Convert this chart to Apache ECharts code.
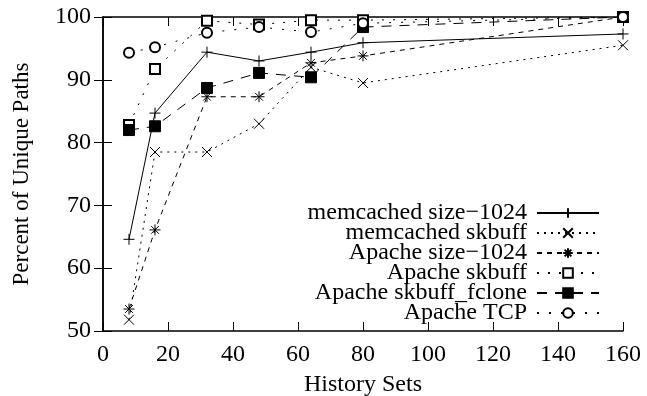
<!DOCTYPE html>
<html>
<head>
<meta charset="utf-8">
<script src="https://cdn.jsdelivr.net/npm/echarts@6/dist/echarts.min.js"></script>
<style>
  html, body { margin: 0; padding: 0; background: #fff; }
  #chart { width: 647px; height: 396px; }
</style>
</head>
<body>
<div id="chart"></div>
<script>
// history set sizes (x axis)
const historySets = [8, 16, 32, 48, 64, 80, 160]

// percent of unique paths per series
const memcachedSize1024 = [64.6, 84.7, 94.4, 93.0, 94.4, 95.9, 97.3]
const memcachedSkbuff = [51.8, 78.5, 78.5, 83.0, 92.0, 89.5, 95.5]
const apacheSize1024 = [53.5, 66.1, 87.3, 87.3, 92.7, 93.8, 100]
const apacheSkbuff = [82.8, 91.7, 99.4, 98.8, 99.5, 99.5, 100]
const apacheSkbuffFclone = [82.0, 82.6, 88.7, 91.1, 90.4, 98.4, 100]
const apacheTcp = [94.3, 95.2, 97.5, 98.4, 97.6, 99.0, 100]

const seriesNames = [
  'memcached size\u22121024',
  'memcached skbuff',
  'Apache size\u22121024',
  'Apache skbuff',
  'Apache skbuff_fclone',
  'Apache TCP'
]

const FONT = 'Liberation Serif'

// marker shapes like gnuplot
const plusPath = 'path://M0,5L10,5M5,0L5,10'
const crossPath = 'path://M0,0L10,10M10,0L0,10'
const starPath = 'path://M0,5L10,5M5,0L5,10M1.5,1.5L8.5,8.5M8.5,1.5L1.5,8.5'

const pair = (vals) => historySets.map((x, i) => [x, vals[i]])

const makeSeries = (name, vals, symbol, size, dash, fill) => ({
  name: name,
  type: 'line',
  data: pair(vals),
  symbol: symbol,
  symbolSize: size,
  showAllSymbol: true,
  lineStyle: { color: '#000', width: 1, type: dash },
  itemStyle: { color: fill || '#000', borderColor: '#000', borderWidth: 1 },
  emphasis: { disabled: true },
  z: 3
})

const chart = echarts.init(document.getElementById('chart'), null, { renderer: 'canvas' })

const tickStyle = { show: true, inside: true, length: 9, lineStyle: { color: '#000', width: 1 } }
const lineAxis = { show: true, lineStyle: { color: '#000', width: 1.5 } }

chart.setOption({
  animation: false,
  backgroundColor: '#fff',
  grid: { left: 103, right: 24, top: 17, bottom: 65, outerBoundsMode: 'none', containLabel: false },
  legend: {
    orient: 'vertical',
    right: 42,
    top: 196,
    align: 'right',
    itemWidth: 62,
    itemHeight: 12,
    itemGap: -4,
    selectedMode: false,
    textStyle: { fontFamily: FONT, fontSize: 24, color: '#000', lineHeight: 20, padding: [0, 5, 0, 0] },
    data: seriesNames
  },
  xAxis: [
    {
      type: 'value', min: 0, max: 160, interval: 20,
      name: 'History Sets', nameLocation: 'middle', nameGap: 42,
      nameTextStyle: { fontFamily: FONT, fontSize: 24, color: '#000' },
      axisLine: lineAxis, axisTick: tickStyle,
      axisLabel: { fontFamily: FONT, fontSize: 24, color: '#000', margin: 12 },
      splitLine: { show: false }
    },
    {
      type: 'value', min: 0, max: 160, interval: 20, position: 'top',
      axisLine: lineAxis, axisTick: tickStyle,
      axisLabel: { show: false }, splitLine: { show: false }
    }
  ],
  yAxis: [
    {
      type: 'value', min: 50, max: 100, interval: 10,
      name: 'Percent of Unique Paths', nameLocation: 'middle', nameGap: 70,
      nameTextStyle: { fontFamily: FONT, fontSize: 23, color: '#000' },
      axisLine: lineAxis, axisTick: tickStyle,
      axisLabel: { fontFamily: FONT, fontSize: 24, color: '#000', margin: 12 },
      splitLine: { show: false }
    },
    {
      type: 'value', min: 50, max: 100, interval: 10, position: 'right',
      axisLine: lineAxis, axisTick: tickStyle,
      axisLabel: { show: false }, splitLine: { show: false }
    }
  ],
  series: [
    makeSeries(seriesNames[0], memcachedSize1024, plusPath, 11, 'solid'),
    makeSeries(seriesNames[1], memcachedSkbuff, crossPath, 10, [2, 5]),
    makeSeries(seriesNames[2], apacheSize1024, starPath, 11, [5, 5]),
    makeSeries(seriesNames[3], apacheSkbuff, 'emptyRect', 10, [2, 9]),
    makeSeries(seriesNames[4], apacheSkbuffFclone, 'rect', 11, [10, 8]),
    makeSeries(seriesNames[5], apacheTcp, 'emptyCircle', 10, [2, 10])
  ]
})
</script>
</body>
</html>
